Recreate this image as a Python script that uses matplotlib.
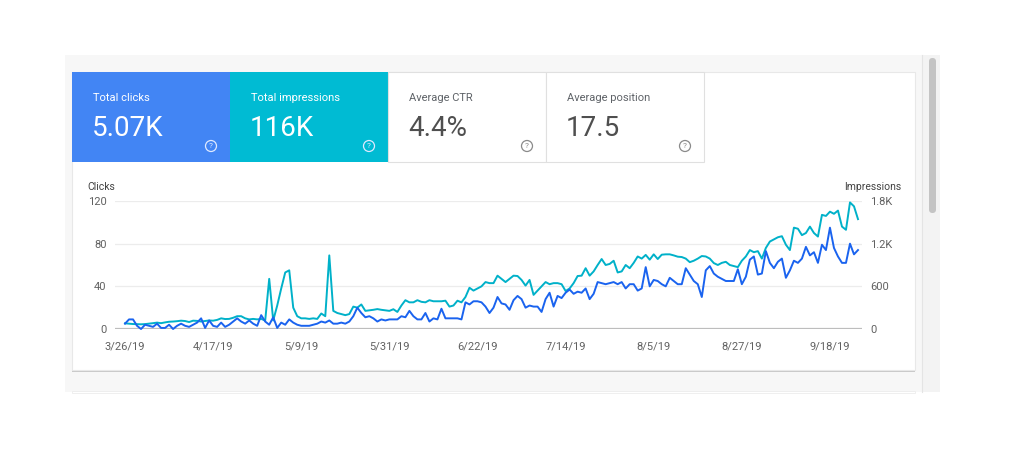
import matplotlib
matplotlib.use("Agg")
import matplotlib.pyplot as plt
from matplotlib.patches import Rectangle, Circle, FancyBboxPatch
import pandas as pd

plt.rcParams['font.family'] = ['Roboto', 'DejaVu Sans']

# data (daily, 3/26/19 .. 9/25/19)
start_date = "2019-03-26"
clicks = [5, 9, 9, 3, 0, 4, 3, 2, 5, 1,
          1, 4, 0, 3, 5, 3, 2, 4, 6, 10,
          1, 8, 3, 2, 6, 2, 4, 7, 10, 7,
          5, 8, 5, 3, 13, 7, 4, 11, 1, 6,
          4, 9, 6, 4, 3, 3, 3, 4, 5, 7,
          6, 8, 5, 5, 6, 5, 7, 12, 20, 15,
          11, 12, 10, 7, 9, 8, 9, 9, 9, 12,
          11, 17, 12, 9, 9, 15, 7, 10, 9, 19,
          10, 10, 10, 10, 9, 25, 23, 26, 26, 25,
          21, 15, 20, 30, 24, 23, 18, 27, 31, 28,
          20, 22, 21, 21, 16, 28, 34, 21, 31, 29,
          34, 37, 33, 35, 34, 38, 28, 33, 44, 43,
          42, 43, 44, 42, 44, 38, 42, 42, 36, 38,
          58, 40, 46, 45, 42, 40, 48, 45, 42, 42,
          57, 51, 45, 42, 30, 55, 59, 52, 49, 47,
          45, 45, 45, 56, 42, 49, 65, 68, 51, 52,
          73, 62, 57, 63, 66, 48, 55, 64, 62, 66,
          77, 69, 72, 62, 79, 74, 95, 76, 68, 62,
          62, 80, 70, 74]
impressions = [80, 75, 70, 68, 66, 69, 75, 82, 90, 82,
               93, 102, 105, 110, 117, 112, 98, 117, 114, 105,
               112, 120, 117, 128, 150, 140, 142, 158, 180, 180,
               150, 135, 142, 135, 142, 120, 705, 120, 330, 570,
               795, 825, 300, 180, 150, 150, 142, 150, 142, 218,
               180, 1035, 255, 225, 210, 195, 210, 315, 300, 345,
               255, 262, 270, 280, 270, 262, 255, 278, 240, 330,
               405, 375, 375, 405, 382, 375, 405, 390, 390, 390,
               398, 315, 330, 398, 375, 450, 580, 540, 570, 600,
               660, 645, 645, 750, 705, 660, 705, 750, 745, 690,
               610, 690, 480, 540, 600, 660, 630, 645, 645, 630,
               534, 570, 645, 745, 750, 855, 750, 810, 900, 984,
               900, 915, 960, 795, 810, 900, 855, 930, 1020, 990,
               1042, 975, 1050, 984, 1045, 1050, 1050, 1035, 1017, 1012,
               990, 940, 960, 990, 1026, 1020, 990, 927, 900, 930,
               945, 900, 885, 870, 960, 1020, 1110, 1080, 1095, 990,
               1140, 1230, 1260, 1290, 1305, 1185, 1110, 1425, 1410, 1320,
               1350, 1440, 1350, 1300, 1605, 1590, 1650, 1620, 1665, 1440,
               1395, 1780, 1725, 1545]

tile_titles = ["Total clicks", "Total impressions", "Average CTR", "Average position"]
tile_values = ["5.07K", "116K", "4.4%", "17.5"]
tile_colors = ["#4285f4", "#00bbd3", "white", "white"]

clicks_ticks = [0, 40, 80, 120]
impr_ticks = [0, 600, 1200, 1800]
impr_tick_labels = ["0", "600", "1.2K", "1.8K"]
date_ticks = ["2019-03-26", "2019-04-17", "2019-05-09", "2019-05-31", "2019-06-22",
              "2019-07-14", "2019-08-05", "2019-08-27", "2019-09-18"]

dates = pd.date_range(start_date, periods=len(clicks), freq="D")
tick_dates = pd.to_datetime(date_ticks)
tick_labels = ["{}/{}/{}".format(d.month, d.day, d.strftime("%y")) for d in tick_dates]

W, H = 1015, 450
fig = plt.figure(figsize=(W / 100, H / 100), dpi=100)
fig.patch.set_facecolor("white")

# page background in pixel coordinates
bg = fig.add_axes([0, 0, 1, 1])
bg.set_xlim(0, W)
bg.set_ylim(H, 0)
bg.axis("off")

bg.add_patch(Rectangle((65, 55), 857, 337, color="#f7f7f7", lw=0))
bg.add_patch(Rectangle((922, 55), 18, 337, color="#f3f3f3", lw=0))
bg.plot([922, 922], [55, 392], color="#e4e4e4", lw=0.8)
bg.add_patch(FancyBboxPatch((929, 58), 7, 155, boxstyle="round,pad=0,rounding_size=3.5",
                            color="#c4c4c4", lw=0))
# card + shadow
bg.add_patch(Rectangle((72, 73), 843, 299, color="#c9c9c9", lw=0))
bg.add_patch(Rectangle((72, 72), 843, 298, facecolor="white", edgecolor="#e8e8e8", lw=0.8))
bg.add_patch(Rectangle((72, 391), 843, 2, facecolor="white", edgecolor="#ececec", lw=0.6))

# metric tiles
tile_w = 158
for i, (title, value, col) in enumerate(zip(tile_titles, tile_values, tile_colors)):
    x0 = 72 + i * tile_w
    if col == "white":
        bg.add_patch(Rectangle((x0, 72), tile_w, 90, facecolor="white",
                               edgecolor="#e0e0e0", lw=0.8))
        tc, vc, ic = "#5f6368", "#4f4f4f", "#8a8a8a"
    else:
        bg.add_patch(Rectangle((x0, 72), tile_w, 90, color=col, lw=0))
        tc, vc, ic = "white", "white", "#dfe9ff"
    bg.text(x0 + 21, 98, title, color=tc, fontsize=8, va="center", ha="left")
    bg.text(x0 + 20, 128, value, color=vc, fontsize=20, va="center", ha="left")
    bg.add_patch(Circle((x0 + 139, 146), 5.5, facecolor="none", edgecolor=ic, lw=0.9))
    bg.text(x0 + 139, 146.5, "?", color=ic, fontsize=6, va="center", ha="center")

bg.text(87, 187, "Clicks", color="#424242", fontsize=7.5, va="center", ha="left")
bg.text(901, 187, "Impressions", color="#424242", fontsize=7.5, va="center", ha="right")

# chart
ax2 = fig.add_axes([115 / W, 1 - 329 / H, 747 / W, 128 / H])
ax = ax2.twinx()
ax2.set_zorder(1)
ax.set_zorder(2)
ax.patch.set_visible(False)

x_left = dates[0] - pd.Timedelta(hours=60)
x_right = dates[0] + pd.Timedelta(days=184)

for yv in impr_ticks[1:]:
    ax2.axhline(yv, color="#ececec", lw=0.9, zorder=0)
ax2.axhline(0, color="#bdbdbd", lw=1.6, zorder=1)
ax2.plot(dates, impressions, color="#00b1c9", lw=1.4, zorder=3, clip_on=False)
ax.plot(dates, clicks, color="#1a63ef", lw=1.4, zorder=3, clip_on=False)

ax.set_xlim(x_left, x_right)
ax2.set_xlim(x_left, x_right)
ax.set_ylim(0, 120)
ax2.set_ylim(0, 1800)

# clicks axis on the left, impressions on the right
ax.yaxis.set_ticks_position("left")
ax.set_yticks(clicks_ticks)
ax.set_yticklabels([str(v) for v in clicks_ticks])
ax2.yaxis.set_ticks_position("right")
ax2.set_yticks(impr_ticks)
ax2.set_yticklabels(impr_tick_labels)
ax.tick_params(axis="y", length=0, pad=6, labelsize=8, labelcolor="#616161",
               left=True, right=False, labelleft=True, labelright=False)
ax2.tick_params(axis="y", length=0, pad=6, labelsize=8, labelcolor="#616161",
                left=False, right=True, labelleft=False, labelright=True)

ax2.set_xticks(tick_dates)
ax2.set_xticklabels(tick_labels)
ax2.tick_params(axis="x", length=0, pad=9, labelsize=8, labelcolor="#616161")
ax.tick_params(axis="x", bottom=False, labelbottom=False)

for a in (ax, ax2):
    for s in a.spines.values():
        s.set_visible(False)

plt.savefig("out.png", dpi=100)
